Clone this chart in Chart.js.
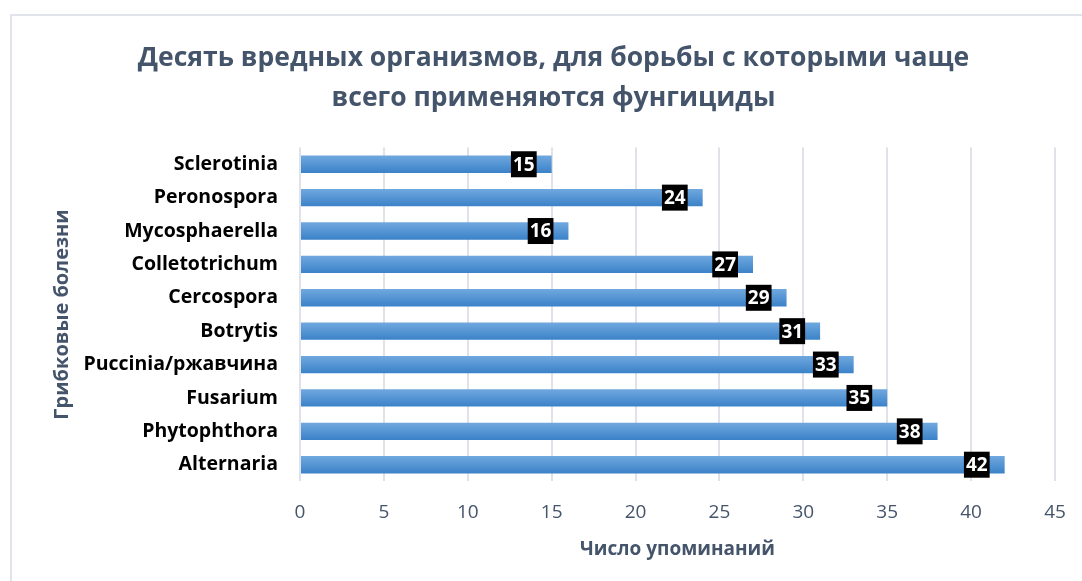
<!DOCTYPE html>
<html>
<head>
<meta charset="utf-8">
<script src="https://cdn.jsdelivr.net/npm/chart.js@4"></script>
<style>
    html, body { margin: 0; padding: 0; background: #fff; overflow: hidden; width: 1082px; height: 581px; }
    #frame { position: absolute; left: 10px; top: 14px; width: 1100px; height: 600px; border: 2px solid #e1e4ea; box-sizing: border-box; }
    #wrap { position: absolute; left: 0; top: 0; width: 1082px; height: 581px; }
</style>
</head>
<body>
<div id="frame"></div>
<div id="wrap"><canvas id="fungChart"></canvas></div>
<script>
const categories = ['Sclerotinia', 'Peronospora', 'Mycosphaerella', 'Colletotrichum', 'Cercospora',
    'Botrytis', 'Puccinia/ржавчина', 'Fusarium', 'Phytophthora', 'Alternaria'];
const mentions = [15, 24, 16, 27, 29, 31, 33, 35, 38, 42];
const xTicks = [0, 5, 10, 15, 20, 25, 30, 35, 40, 45];

const fontFamily = '"Open Sans", "Noto Sans", sans-serif';
const slate = '#44546a';
const barThickness = 0.52;

function barGradient(ctx) {
    const chart = ctx.chart;
    const yScale = chart.scales.y;
    if (!yScale || ctx.type !== 'data') return '#5b9bd5';
    const y = yScale.getPixelForValue(ctx.dataIndex);
    const h = yScale.height / categories.length * barThickness / 2;
    if (!isFinite(y) || !isFinite(h) || h <= 0) return '#5b9bd5';
    const g = chart.ctx.createLinearGradient(0, y - h, 0, y + h);
    g.addColorStop(0, '#70a8df');
    g.addColorStop(1, '#3b82c8');
    return g;
}

// black value boxes near the end of each bar
const valueBoxes = {
    id: 'valueBoxes',
    afterDatasetsDraw(chart) {
        const ctx = chart.ctx;
        const meta = chart.getDatasetMeta(0);
        ctx.save();
        ctx.font = 'bold 19px ' + fontFamily;
        ctx.textAlign = 'center';
        ctx.textBaseline = 'middle';
        meta.data.forEach((bar, i) => {
            const txt = String(mentions[i]);
            const w = ctx.measureText(txt).width + 4;
            const right = bar.x - 15;
            ctx.fillStyle = '#000';
            ctx.fillRect(right - w, bar.y - 13, w, 26);
            ctx.fillStyle = '#fff';
            ctx.fillText(txt, right - w / 2, bar.y + 1);
        });
        ctx.restore();
    }
};

new Chart(document.getElementById('fungChart'), {
    type: 'bar',
    data: {
        labels: categories,
        datasets: [{
            label: 'Число упоминаний',
            data: mentions,
            backgroundColor: barGradient,
            barPercentage: barThickness,
            categoryPercentage: 1.0
        }]
    },
    options: {
        indexAxis: 'y',
        responsive: true,
        maintainAspectRatio: false,
        animation: false,
        layout: { padding: { left: 52, right: 27, top: 34, bottom: 20 } },
        plugins: {
            legend: { display: false },
            tooltip: { enabled: false },
            title: {
                display: true,
                text: ['Десять вредных организмов, для борьбы с которыми чаще', 'всего применяются фунгициды'],
                color: slate,
                font: { family: fontFamily, size: 26.5, weight: 'bold', lineHeight: 1.52 },
                padding: { top: 4, bottom: 29 }
            }
        },
        scales: {
            x: {
                min: 0,
                max: 45,
                afterBuildTicks(axis) { axis.ticks = xTicks.map(v => ({ value: v })); },
                afterFit(axis) { axis.paddingLeft = 0; axis.paddingRight = 0; },
                ticks: { color: slate, font: { family: fontFamily, size: 19 }, padding: 20 },
                grid: { color: '#dfe2e8', lineWidth: 2, drawTicks: false },
                border: { display: false },
                title: {
                    display: true,
                    text: 'Число упоминаний',
                    color: slate,
                    font: { family: fontFamily, size: 19, weight: 'bold' },
                    padding: { top: -6, bottom: 0 }
                }
            },
            y: {
                afterFit(axis) { axis.width = 248; },
                ticks: { color: '#000', font: { family: fontFamily, size: 19.5, weight: 'bold' }, padding: 14 },
                grid: { display: false },
                border: { display: false },
                title: {
                    display: true,
                    text: 'Грибковые болезни',
                    color: slate,
                    font: { family: fontFamily, size: 20, weight: 'bold' },
                    padding: { top: -2, bottom: 0 }
                }
            }
        }
    },
    plugins: [valueBoxes]
});
</script>
</body>
</html>
